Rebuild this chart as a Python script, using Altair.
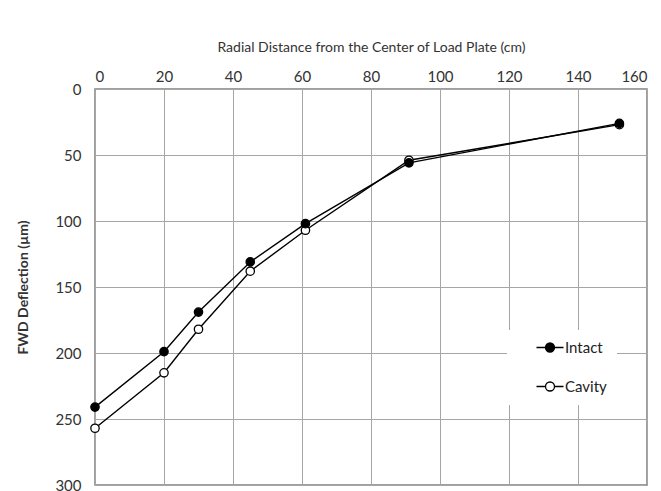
import altair as alt
import pandas as pd

distance = [0, 20, 30, 45, 61, 91, 152]
intact = [241, 199, 169, 131, 102, 56, 26]
cavity = [257, 215, 182, 138, 107, 54, 27]
series_names = ["Intact", "Cavity"]

rows = []
# Cavity first so that the filled Intact markers are drawn on top
for name, vals in [("Cavity", cavity), ("Intact", intact)]:
    for d, v in zip(distance, vals):
        rows.append({"dist": d, "defl": v, "series": name})
df = pd.DataFrame(rows)

FONT = "Lato"

x = alt.X("dist:Q",
          scale=alt.Scale(domain=[0, 160], nice=False),
          axis=alt.Axis(orient="top", values=list(range(0, 161, 20)),
                        title="Radial Distance from the Center of Load Plate (cm)",
                        titleFontSize=14, titleFontWeight="normal", titlePadding=15,
                        labelFontSize=15, labelPadding=5))
y = alt.Y("defl:Q",
          scale=alt.Scale(domain=[0, 300], reverse=True, nice=False),
          axis=alt.Axis(values=list(range(0, 301, 50)),
                        title="FWD Deflection (µm)",
                        titleFontSize=14, titleFontWeight="bold", titlePadding=24,
                        labelFontSize=15, labelPadding=14))

lines = alt.Chart(df).mark_line(color="black", strokeWidth=1.4).encode(
    x=x, y=y, detail="series:N", order="dist:Q")

sym_path = "M2.667,0L4.667,0M6.667,0L8.667,0M4.667,0A1,1 0 1,1 6.667,0A1,1 0 1,1 4.667,0Z"

points = alt.Chart(df).mark_point(filled=False, size=70, stroke="black",
                                  strokeWidth=1.3, opacity=1, shape="circle").encode(
    x=x, y=y,
    fill=alt.Fill("series:N",
                  scale=alt.Scale(domain=series_names, range=["black", "white"]),
                  legend=alt.Legend(title=None, orient="none", legendX=412, legendY=241,
                                    symbolType=sym_path, symbolSize=81,
                                    symbolStrokeColor="black", symbolStrokeWidth=1.3,
                                    labelFontSize=15, labelOffset=33,
                                    rowPadding=23, padding=10, fillColor="white",
                                    labelColor="#222")),
)

chart = alt.layer(lines, points).properties(
    width=552, height=396,
    padding={"left": 95, "top": 89, "right": 14, "bottom": 6},
    autosize=alt.AutoSizeParams(type="none"),
    background="white",
).configure_view(stroke="#808080", strokeWidth=1.5).configure_axis(
    grid=True, gridColor="#a6a6a6", gridWidth=1, domain=False, ticks=False,
    labelFont=FONT, titleFont=FONT, labelColor="#333", titleColor="#333",
).configure_legend(labelFont=FONT)

chart.save("out.html", embed_options={"renderer": "svg", "actions": False})
